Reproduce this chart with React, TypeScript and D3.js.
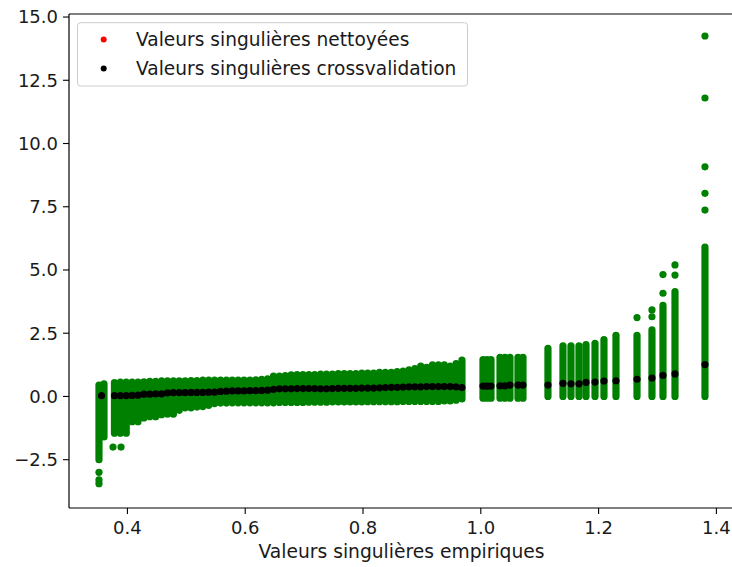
import React from 'react';
import * as d3 from 'd3';

// Vertical strips of green points (empirical singular value x, min y, max y)
const colX: number[] = [
  0.3517, 0.3602,
  0.378, 0.388, 0.398, 0.408, 0.418, 0.428, 0.438, 0.448, 0.458, 0.468,
  0.478, 0.488, 0.498, 0.508, 0.518, 0.528, 0.538, 0.548, 0.558, 0.568,
  0.578, 0.588, 0.598, 0.608, 0.618, 0.628, 0.638, 0.648, 0.658, 0.668,
  0.678, 0.688, 0.698, 0.708, 0.718, 0.728, 0.738, 0.748, 0.758, 0.768,
  0.778, 0.788, 0.798, 0.808, 0.818, 0.828, 0.838, 0.848, 0.858, 0.868,
  0.878, 0.888, 0.898, 0.908, 0.918, 0.928, 0.938, 0.948, 0.958, 0.968,
  1.0037, 1.0105, 1.0173, 1.0326, 1.041, 1.0495, 1.0631, 1.0716, 1.114,
  1.1395, 1.1531, 1.1667, 1.1786, 1.1939, 1.2091, 1.2295, 1.2652, 1.2906,
  1.3093, 1.3297, 1.3806,
];
const colMin: number[] = [
  -2.5, -1.6,
  -1.45, -1.45, -1.45, -1.0, -1.0, -0.85, -0.8, -0.8, -0.72, -0.7,
  -0.7, -0.55, -0.45, -0.45, -0.42, -0.4, -0.35, -0.28, -0.26, -0.26,
  -0.25, -0.25, -0.25, -0.25, -0.25, -0.25, -0.25, -0.25, -0.24, -0.24,
  -0.24, -0.24, -0.24, -0.23, -0.23, -0.23, -0.23, -0.22, -0.22, -0.22,
  -0.22, -0.22, -0.22, -0.21, -0.21, -0.21, -0.21, -0.21, -0.21, -0.2,
  -0.2, -0.2, -0.2, -0.2, -0.2, -0.2, -0.18, -0.18, -0.15, -0.1,
  -0.07, -0.07, -0.07, -0.07, -0.07, -0.07, -0.07, -0.07, 0.0,
  0.0, 0.0, 0.0, 0.0, 0.0, 0.0, 0.0, 0.0, 0.0,
  0.0, 0.0, 0.0,
];
const colMax: number[] = [
  0.45, 0.5,
  0.55, 0.57, 0.57, 0.57, 0.57, 0.58, 0.6, 0.6, 0.62, 0.62,
  0.62, 0.62, 0.62, 0.63, 0.63, 0.65, 0.65, 0.65, 0.65, 0.65,
  0.65, 0.65, 0.65, 0.65, 0.66, 0.68, 0.7, 0.8, 0.8, 0.82,
  0.85, 0.86, 0.86, 0.86, 0.86, 0.88, 0.88, 0.88, 0.9, 0.9,
  0.9, 0.9, 0.92, 0.92, 0.92, 0.95, 0.95, 0.95, 0.98, 1.0,
  1.05, 1.1, 1.2, 1.15, 1.25, 1.25, 1.25, 1.2, 1.3, 1.44,
  1.46, 1.46, 1.46, 1.55, 1.55, 1.55, 1.55, 1.55, 1.9,
  2.0, 2.0, 2.0, 2.05, 2.1, 2.25, 2.42, 2.42, 2.63,
  3.6, 4.15, 5.9,
];

// Isolated green points
const outX: number[] = [0.3517, 0.3517, 0.3517, 0.3755, 0.3891, 1.2652, 1.2906, 1.2906, 1.3093, 1.3093, 1.3297, 1.3297, 1.3806, 1.3806, 1.3806, 1.3806, 1.3806];
const outY: number[] = [-3.0, -3.3, -3.45, -2.0, -2.0, 3.12, 3.15, 3.42, 4.08, 4.82, 4.8, 5.2, 7.37, 8.03, 9.08, 11.8, 14.25];

// Cross-validation singular values (black)
const cvX: number[] = [
  0.356,
  0.378, 0.388, 0.398, 0.408, 0.418, 0.428, 0.438, 0.448, 0.458, 0.468,
  0.478, 0.488, 0.498, 0.508, 0.518, 0.528, 0.538, 0.548, 0.558, 0.568,
  0.578, 0.588, 0.598, 0.608, 0.618, 0.628, 0.638, 0.648, 0.658, 0.668,
  0.678, 0.688, 0.698, 0.708, 0.718, 0.728, 0.738, 0.748, 0.758, 0.768,
  0.778, 0.788, 0.798, 0.808, 0.818, 0.828, 0.838, 0.848, 0.858, 0.868,
  0.878, 0.888, 0.898, 0.908, 0.918, 0.928, 0.938, 0.948, 0.958, 0.968,
  1.0037, 1.0105, 1.0173, 1.0326, 1.041, 1.0495, 1.0631, 1.0716, 1.114,
  1.1395, 1.1531, 1.1667, 1.1786, 1.1939, 1.2091, 1.2295, 1.2652, 1.2906,
  1.3093, 1.3297, 1.3806,
];
const cvY: number[] = [
  0.03,
  0.03, 0.03, 0.03, 0.04, 0.05, 0.09, 0.09, 0.1, 0.1, 0.14,
  0.15, 0.15, 0.15, 0.16, 0.16, 0.16, 0.17, 0.17, 0.2, 0.21,
  0.22, 0.22, 0.22, 0.23, 0.23, 0.24, 0.25, 0.28, 0.3, 0.3,
  0.3, 0.31, 0.31, 0.31, 0.31, 0.3, 0.3, 0.31, 0.32, 0.32,
  0.32, 0.32, 0.33, 0.33, 0.33, 0.34, 0.35, 0.36, 0.36, 0.37,
  0.38, 0.38, 0.38, 0.39, 0.39, 0.39, 0.39, 0.39, 0.38, 0.35,
  0.41, 0.41, 0.41, 0.42, 0.42, 0.45, 0.45, 0.45, 0.45,
  0.52, 0.5, 0.5, 0.56, 0.57, 0.61, 0.62, 0.68, 0.73,
  0.83, 0.89, 1.26,
];

const xTicks: number[] = [0.4, 0.6, 0.8, 1.0, 1.2, 1.4];
const yTicks: number[] = [-2.5, 0, 2.5, 5, 7.5, 10, 12.5, 15];
const legendLabels: string[] = ['Valeurs singulières nettoyées', 'Valeurs singulières crossvalidation'];
const legendColors: string[] = ['#ff0000', '#000000'];
const xLabel = 'Valeurs singulières empiriques';

const W = 732;
const H = 567;
const L = 69, R = 738.6, T = 14, B = 508;
const FONT = '"DejaVu Sans", sans-serif';
const GREEN = '#008000';
const RAD = 3.6;

export default function App() {
  const x = d3.scaleLinear().domain([0.3008, 1.4377]).range([L, R]);
  const y = d3.scaleLinear().domain([-4.41, 15.12]).range([B, T]);
  const fmt = d3.format('.1f');

  return (
    <svg width={W} height={H} style={{ position: 'fixed', left: 0, top: 0, background: '#fff' }}>
      <rect x={0} y={0} width={W} height={H} fill="#fff" />
      <g>
        {colX.map((cx, i) => (
          <line key={'c' + i} x1={x(cx)} x2={x(cx)} y1={y(colMin[i])} y2={y(colMax[i])}
            stroke={GREEN} strokeWidth={RAD * 2} strokeLinecap="round" />
        ))}
        {outX.map((ox, i) => (
          <circle key={'o' + i} cx={x(ox)} cy={y(outY[i])} r={RAD} fill={GREEN} />
        ))}
        {cvX.map((bx, i) => (
          <circle key={'b' + i} cx={x(bx)} cy={y(cvY[i])} r={RAD} fill="#000" />
        ))}
      </g>
      {/* spines */}
      <g stroke="#000" strokeWidth={1.2} fill="none">
        <line x1={L} x2={L} y1={T} y2={B} />
        <line x1={L} x2={R} y1={B} y2={B} />
        <line x1={L} x2={R} y1={T} y2={T} />
        <line x1={R} x2={R} y1={T} y2={B} />
      </g>
      {/* y ticks */}
      {yTicks.map((t) => (
        <g key={'yt' + t}>
          <line x1={L - 6} x2={L} y1={y(t)} y2={y(t)} stroke="#000" strokeWidth={1.1} />
          <text x={L - 11} y={y(t)} dy="0.35em" textAnchor="end" fontFamily={FONT} fontSize={18} fill="#1a1a1a">{fmt(t)}</text>
        </g>
      ))}
      {/* x ticks */}
      {xTicks.map((t) => (
        <g key={'xt' + t}>
          <line x1={x(t)} x2={x(t)} y1={B} y2={B + 6} stroke="#000" strokeWidth={1.1} />
          <text x={x(t)} y={B + 26} textAnchor="middle" fontFamily={FONT} fontSize={18} fill="#1a1a1a">{fmt(t)}</text>
        </g>
      ))}
      <text x={401.5} y={558} textAnchor="middle" fontFamily={FONT} fontSize={18.7} fill="#1a1a1a">{xLabel}</text>
      {/* legend */}
      <rect x={77.5} y={22.7} width={390} height={63.3} rx={3} fill="#fff" fillOpacity={0.8} stroke="#cccccc" strokeWidth={1} />
      {legendLabels.map((lab, i) => (
        <g key={'lg' + i}>
          <circle cx={103.7} cy={39.5 + i * 29} r={3} fill={legendColors[i]} />
          <text x={136} y={39.5 + i * 29} dy="0.35em" fontFamily={FONT} fontSize={18.6} fill="#1a1a1a">{lab}</text>
        </g>
      ))}
    </svg>
  );
}
